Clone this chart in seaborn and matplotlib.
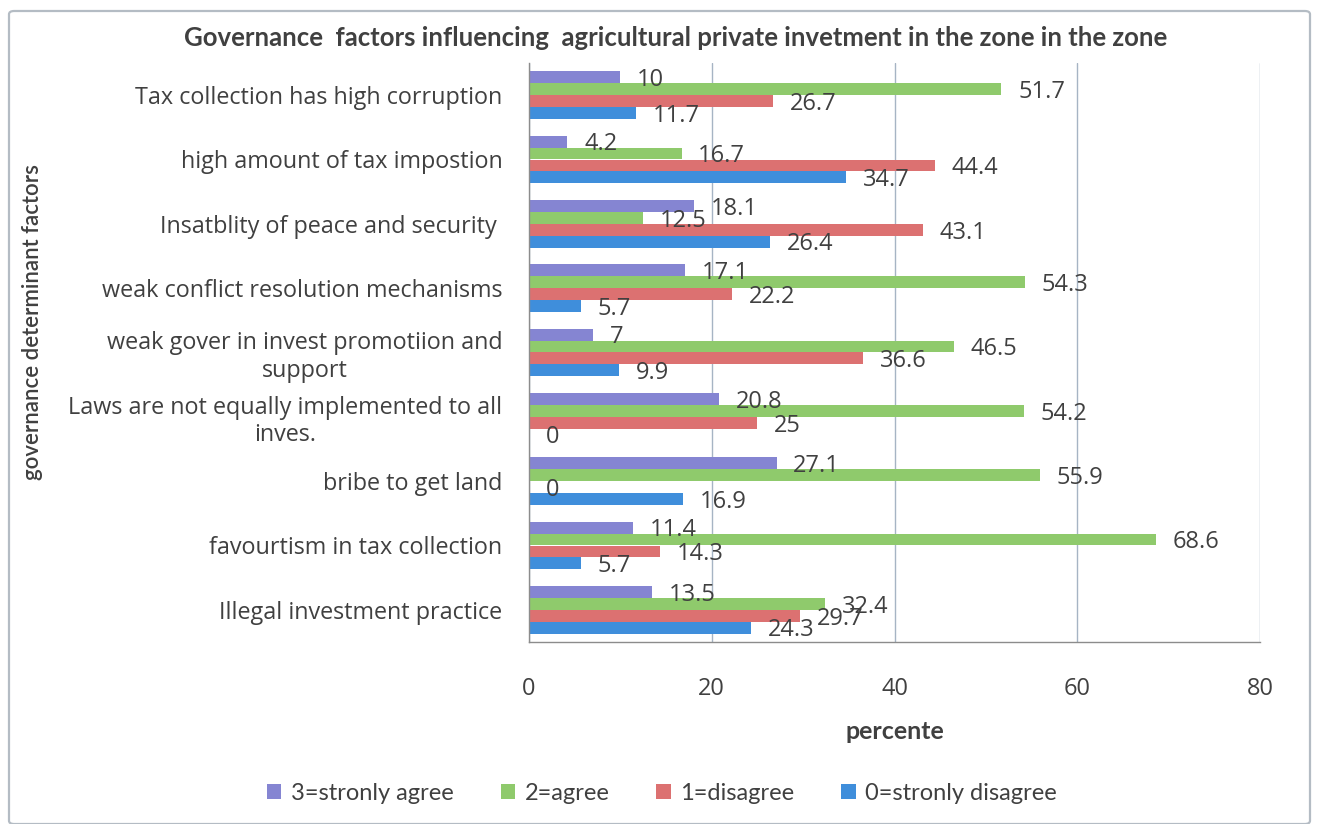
import matplotlib
matplotlib.use("Agg")
import matplotlib.pyplot as plt
from matplotlib.patches import FancyBboxPatch
from matplotlib.ticker import FixedLocator
import numpy as np
import pandas as pd
import seaborn as sns

# Survey responses (percent of respondents) per governance factor
factors = [
    "Tax collection has high corruption",
    "high amount of tax impostion",
    "Insatblity of peace and security ",
    "weak conflict resolution mechanisms",
    "weak gover in invest promotiion and\nsupport",
    "Laws are not equally implemented to all\ninves.",
    "bribe to get land",
    "favourtism in tax collection",
    "Illegal investment practice",
]
levels = ["3=stronly agree", "2=agree", "1=disagree", "0=stronly disagree"]

strongly_agree = [10, 4.2, 18.1, 17.1, 7, 20.8, 27.1, 11.4, 13.5]
agree = [51.7, 16.7, 12.5, 54.3, 46.5, 54.2, 55.9, 68.6, 32.4]
disagree = [26.7, 44.4, 43.1, 22.2, 36.6, 25, 0, 14.3, 29.7]
strongly_disagree = [11.7, 34.7, 26.4, 5.7, 9.9, 0, 16.9, 5.7, 24.3]

colors = ["#8585d2", "#8fca6c", "#dc7171", "#3f8edb"]
x_ticks = [0, 20, 40, 60, 80]

series = [strongly_agree, agree, disagree, strongly_disagree]
df = pd.DataFrame({
    "factor": np.tile(factors, len(levels)),
    "level": np.repeat(levels, len(factors)),
    "value": np.concatenate(series),
})

sns.set_theme(style="white")
plt.rcParams["font.family"] = ["Open Sans", "DejaVu Sans"]
text_color = "#404040"

fig = plt.figure(figsize=(13.18, 8.24), dpi=100)
fig.patch.set_facecolor("white")
ax = fig.add_axes([529 / 1318, 1 - 642 / 824, 731 / 1318, 579 / 824])

sns.barplot(
    data=df, y="factor", x="value", hue="level",
    order=factors, hue_order=levels, palette=colors,
    orient="h", width=0.74, saturation=1, linewidth=0, ax=ax, legend=True,
)

# value labels at the end of every bar
for cont in ax.containers:
    anns = ax.bar_label(cont, fmt="{:g}", padding=12, fontsize=17,
                        color=text_color, family=["Open Sans", "DejaVu Sans"])
    for a in anns:
        a.set_position((12, -2))

ax.set_xlim(0, 80)
ax.set_ylim(len(factors) - 0.5, -0.5)
ax.xaxis.set_major_locator(FixedLocator(x_ticks))
ax.set_xticklabels([str(t) for t in x_ticks])
ax.grid(axis="x", color="#a6b4c4", linewidth=1.0)
ax.grid(axis="y", visible=False)
ax.set_axisbelow(True)

for s in ["top", "right"]:
    ax.spines[s].set_visible(False)
for s in ["left", "bottom"]:
    ax.spines[s].set_color("#8c8c8c")
    ax.spines[s].set_linewidth(1.0)

ax.tick_params(axis="x", length=0, pad=25, labelsize=17, labelcolor=text_color)
ax.tick_params(axis="y", which="major", length=0, pad=19, labelsize=16.8,
               labelcolor=text_color)
ax.yaxis.set_minor_locator(FixedLocator(np.arange(-0.5, len(factors), 1.0)))
ax.tick_params(axis="y", which="minor", length=7, width=1.0, color="#8c8c8c",
               direction="out")
for lab in ax.get_yticklabels():
    lab.set_multialignment("center")

ax.set_ylabel("")
ax.set_xlabel("percente", fontsize=18, fontweight="bold", color=text_color,
              labelpad=14, family=["Lato", "DejaVu Sans"])

fig.text(33 / 1318, 1 - 322 / 824, "governance determinant factors",
         rotation=90, ha="center", va="center", fontsize=16,
         color=text_color, family=["Lato", "DejaVu Sans"], fontweight="semibold")

fig.text(676 / 1318, 1 - 38 / 824,
         "Governance  factors influencing  agricultural private invetment in the zone in the zone",
         ha="center", va="center", fontsize=18.5, fontweight="bold",
         color=text_color, family=["Lato", "DejaVu Sans"])

handles, labels = ax.get_legend_handles_labels()
ax.get_legend().remove()
fig.legend(handles, labels, loc="center", ncol=4,
           bbox_to_anchor=(662 / 1318, 1 - 793 / 824), frameon=False,
           handlelength=0.6, handleheight=0.6, handletextpad=0.4,
           columnspacing=2.0, prop={"family": ["Lato", "DejaVu Sans"], "size": 17},
           labelcolor=text_color)

# outer chart frame
frame = FancyBboxPatch((9 / 1318, 0.0), 1301 / 1318, 1 - 11 / 824 - 0.0,
                       boxstyle="round,pad=0,rounding_size=0.004",
                       transform=fig.transFigure, fill=False,
                       edgecolor="#b4bcc4", linewidth=1.6)
fig.patches.append(frame)

fig.savefig("out.png", dpi=100, facecolor="white")
